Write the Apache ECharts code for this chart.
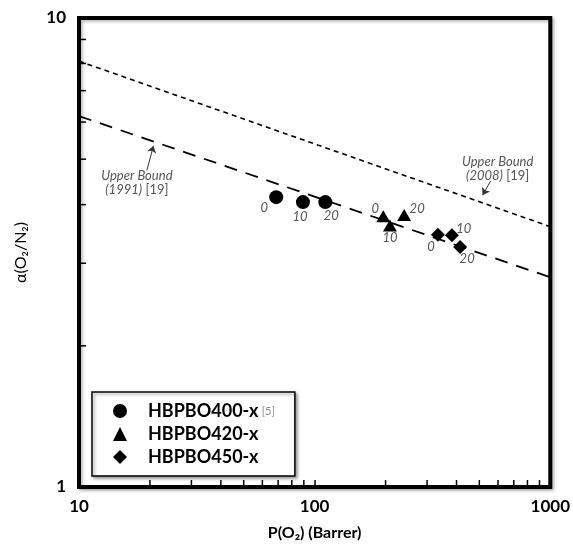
<!DOCTYPE html>
<html>
<head>
<meta charset="utf-8">
<script src="https://cdn.jsdelivr.net/npm/echarts@6/dist/echarts.min.js"></script>
<style>
html, body { margin: 0; padding: 0; background: #fff; }
#chart { width: 573px; height: 546px; }
</style>
</head>
<body>
<div id="chart"></div>
<script>
// values
const loadings = ["0", "10", "20"];
const hb400P = [68.7, 89.2, 111];
const hb400Alpha = [4.15, 4.05, 4.05];
const hb420P = [195.5, 208.7, 239.8];
const hb420Alpha = [3.78, 3.61, 3.80];
const hb450P = [333.7, 382.2, 414.5];
const hb450Alpha = [3.45, 3.44, 3.25];

const bound1991P = [10, 1000];
const bound1991Alpha = [6.18, 2.80];
const bound2008P = [10, 1000];
const bound2008Alpha = [8.09, 3.59];

const xMinorTicks = [20, 30, 40, 50, 60, 70, 80, 90, 200, 300, 400, 500, 600, 700, 800, 900];
const yMinorTicks = [2, 3, 4, 5, 6, 7, 8, 9];

// label placement around the markers (pixels)
const offsets400 = [[-12, 11], [-3, 15], [6, 14]];
const offsets420 = [[-8, -7], [0, 12], [13, -6]];
const offsets450 = [[-7, 12], [12, -7], [7, 12]];

const FONT = "Lato, 'Open Sans', 'DejaVu Sans', sans-serif";

function pairs(xs, ys) {
	return xs.map((x, i) => [x, ys[i]]);
}

function pointsWithLabels(xs, ys, offs) {
	return xs.map((x, i) => ({
		value: [x, ys[i]],
		label: {offset: offs[i]}
	}));
}

function scatter(name, symbol, size, xs, ys, offs) {
	return {
		name: name,
		type: "scatter",
		symbol: symbol,
		symbolSize: size,
		z: 5,
		itemStyle: {color: "#000", opacity: 1},
		label: {
			show: true,
			position: "inside",
			formatter: (p) => loadings[p.dataIndex],
			fontFamily: FONT,
			fontStyle: "italic",
			fontSize: 13,
			color: "#555"
		},
		data: pointsWithLabels(xs, ys, offs)
	};
}

function boundNote(textCoord, arrowFrom, arrowTo, year) {
	return {
		markPoint: {
			silent: true,
			symbol: "circle",
			symbolSize: 0,
			itemStyle: {color: "transparent"},
			label: {
				show: true,
				position: "inside",
				formatter: "{i|Upper Bound}\n{i|(" + year + ")} {n|[19]}",
				lineHeight: 14,
				rich: {
					i: {fontFamily: FONT, fontStyle: "italic", fontSize: 13, color: "#555", lineHeight: 14},
					n: {fontFamily: FONT, fontSize: 13, color: "#555", lineHeight: 14}
				}
			},
			data: [{coord: textCoord}]
		},
		markLine: {
			silent: true,
			symbol: ["none", "arrow"],
			symbolSize: 7,
			lineStyle: {color: "#333", width: 1, type: "solid"},
			label: {show: false},
			data: [[{coord: arrowFrom}, {coord: arrowTo}]]
		}
	};
}

const chart = echarts.init(document.getElementById("chart"));

const option = {
	animation: false,
	backgroundColor: "#fff",
	grid: {
		left: 79,
		right: 20,
		top: 18,
		bottom: 54,
		show: true,
		backgroundColor: "#fff",
		borderColor: "#000",
		borderWidth: 4,
		shadowColor: "rgba(0,0,0,0.25)",
		shadowBlur: 3,
		shadowOffsetX: 2,
		shadowOffsetY: 2
	},
	legend: {
		orient: "vertical",
		left: 92,
		top: 392,
		padding: [10, 20, 10, 21],
		itemWidth: 14,
		itemHeight: 14,
		itemGap: 5,
		borderColor: "#000",
		borderWidth: 1.5,
		backgroundColor: "#fff",
		shadowColor: "rgba(0,0,0,0.35)",
		shadowBlur: 3,
		shadowOffsetX: 2,
		shadowOffsetY: 2,
		data: ["HBPBO400-x", "HBPBO420-x", "HBPBO450-x"],
		formatter: (name) => name === "HBPBO400-x" ? "{b|" + name + "} {r|[5]}" : "{b|" + name + "}",
		textStyle: {
			rich: {
				b: {fontFamily: FONT, fontSize: 18, fontWeight: "bold", color: "#000", padding: [0, 0, 0, 16]},
				r: {fontFamily: FONT, fontSize: 11, color: "#888"}
			}
		}
	},
	xAxis: {
		type: "log",
		logBase: 10,
		min: 10,
		max: 1000,
		name: "P(O₂) (Barrer)",
		nameLocation: "middle",
		nameGap: 38,
		nameTextStyle: {fontFamily: FONT, fontSize: 16, fontWeight: "bold", color: "#000"},
		axisLine: {show: false},
		axisTick: {show: true, inside: true, length: 7, lineStyle: {color: "#000", width: 1.5}},
		axisLabel: {
			fontFamily: FONT, fontSize: 17, fontWeight: "bold", color: "#000", margin: 11,
			formatter: (v) => String(v)
		},
		splitLine: {show: false}
	},
	yAxis: {
		type: "log",
		logBase: 10,
		min: 1,
		max: 10,
		name: "α(O₂/N₂)",
		nameLocation: "middle",
		nameGap: 50,
		nameTextStyle: {fontFamily: FONT, fontSize: 16, color: "#000"},
		axisLine: {show: false},
		axisTick: {show: false},
		axisLabel: {
			fontFamily: FONT, fontSize: 17, fontWeight: "bold", color: "#000", margin: 13,
			formatter: (v) => String(v)
		},
		splitLine: {show: false}
	},
	series: [
		Object.assign({
			name: "Upper Bound (1991)",
			type: "line",
			showSymbol: false,
			silent: true,
			z: 3,
			lineStyle: {color: "#000", width: 1.8, type: [13, 9]},
			data: pairs(bound1991P, bound1991Alpha)
		}, boundNote([17.6, 4.45], [19.4, 4.73], [20.7, 5.34], "1991")),
		Object.assign({
			name: "Upper Bound (2008)",
			type: "line",
			showSymbol: false,
			silent: true,
			z: 3,
			lineStyle: {color: "#000", width: 1.6, type: [5, 4]},
			data: pairs(bound2008P, bound2008Alpha)
		}, boundNote([598, 4.78], [558, 4.49], [516, 4.19], "2008")),
		scatter("HBPBO400-x", "circle", 14, hb400P, hb400Alpha, offsets400),
		scatter("HBPBO420-x", "triangle", [14, 12], hb420P, hb420Alpha, offsets420),
		scatter("HBPBO450-x", "diamond", 14, hb450P, hb450Alpha, offsets450),
		{
			// minor ticks on the bottom axis
			type: "custom",
			silent: true,
			z: 6,
			renderItem: (params, api) => {
				const p = api.coord([api.value(0), 1]);
				return {
					type: "line",
					shape: {x1: p[0], y1: p[1], x2: p[0], y2: p[1] - 7},
					style: {stroke: "#000", lineWidth: 1.5}
				};
			},
			data: xMinorTicks.map((v) => [v, 1])
		},
		{
			// ticks on the left axis
			type: "custom",
			silent: true,
			z: 6,
			renderItem: (params, api) => {
				const p = api.coord([10, api.value(1)]);
				return {
					type: "line",
					shape: {x1: p[0], y1: p[1], x2: p[0] + 7, y2: p[1]},
					style: {stroke: "#000", lineWidth: 1.5}
				};
			},
			data: yMinorTicks.map((v) => [10, v])
		}
	]
};

chart.setOption(option);
</script>
</body>
</html>
